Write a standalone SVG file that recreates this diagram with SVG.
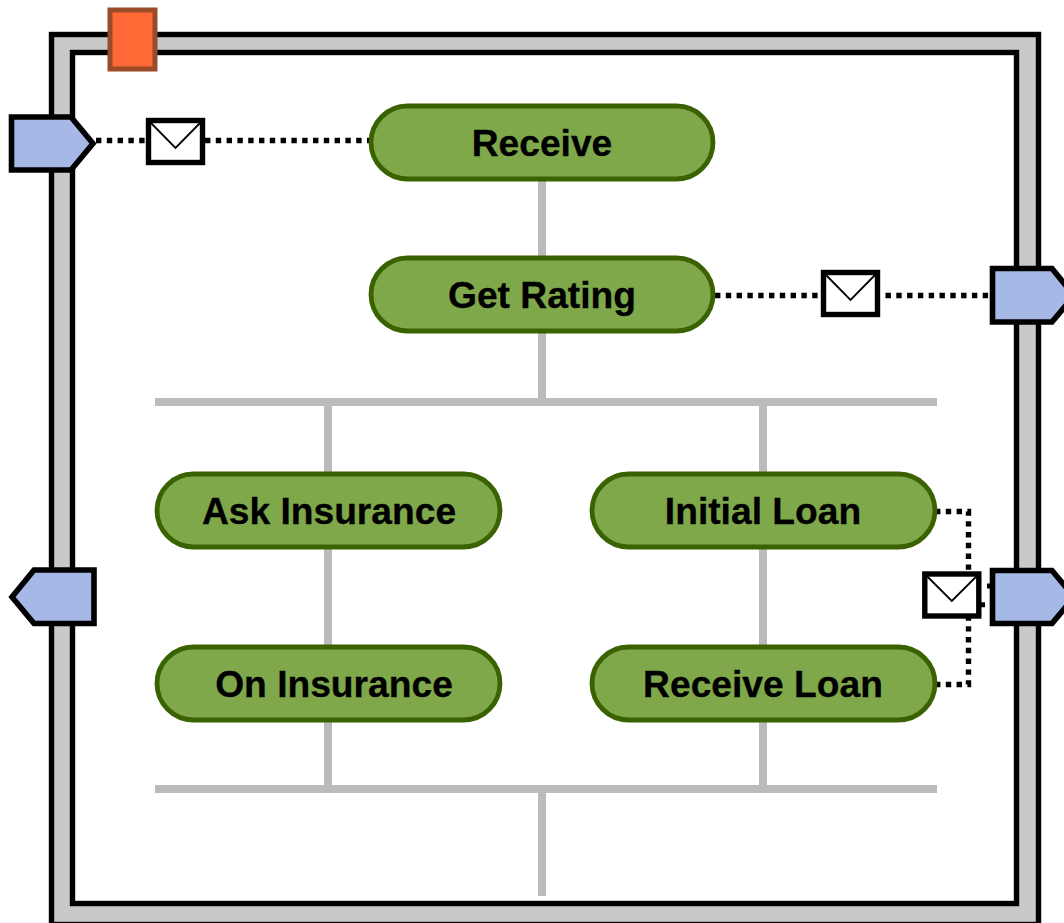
<svg xmlns="http://www.w3.org/2000/svg" width="1064" height="923" viewBox="0 0 1064 923">
<style>
.frame{stroke:#000;stroke-width:5.4}
.bar{fill:#bbb}
.dot{fill:none;stroke:#000;stroke-width:5.4;stroke-dasharray:5.400 5.400}
.port{fill:#a6b8e6;stroke:#000;stroke-width:5.6}
.env{fill:#fff;stroke:#000;stroke-width:5.4}
.flap{fill:none;stroke:#000;stroke-width:1.8}
.task{fill:#7fa84a;stroke:#3a6200;stroke-width:4.8}
text{font-family:"Liberation Sans",Arial,sans-serif;font-weight:700;font-size:37.2px;text-anchor:middle;fill:#000;stroke:#000;stroke-width:.3}
</style>
<rect width="1064" height="923" fill="#fff"/>
<g id="frame">
<rect class="frame" x="51.5" y="34.5" width="987" height="890" fill="#c9c9c9"/>
<rect class="frame" x="72.5" y="52.5" width="944" height="851" fill="#fff"/>
</g>
<g id="connectors">
<rect class="bar" x="538" y="181" width="8" height="75"/>
<rect class="bar" x="538" y="333" width="8" height="67"/>
<rect class="bar" x="155" y="398" width="782" height="8"/>
<rect class="bar" x="324" y="406" width="8" height="66"/>
<rect class="bar" x="759" y="406" width="8" height="66"/>
<rect class="bar" x="324" y="549" width="8" height="96"/>
<rect class="bar" x="759" y="549" width="8" height="96"/>
<rect class="bar" x="324" y="722" width="8" height="63"/>
<rect class="bar" x="759" y="722" width="8" height="63"/>
<rect class="bar" x="155" y="785" width="782" height="8"/>
<rect class="bar" x="538" y="793" width="8" height="103"/>
<path class="dot" d="M96 140.5H147"/>
<path class="dot" d="M205 140.5H369"/>
<path class="dot" d="M715 295.500H821"/>
<path class="dot" d="M885.500 295.500H990"/>
<path class="dot" d="M935 511.500H968.500V572"/>
<path class="dot" d="M935 684.500H968.500V618"/>
<path d="M987 586H992M980 604.700H985" fill="none" stroke="#000" stroke-width="5"/>
</g>
<g id="port-in"><path class="port" d="M11.500 117H71L93 143.500L71 170H11.500Z"/></g>
<g id="port-out-left"><path class="port" d="M94 570H34L12 597L34 623.500H94Z"/></g>
<g id="port-right-1"><path class="port" d="M992.500 268.500H1052L1074 295.500L1052 322H992.500Z"/></g>
<g id="port-right-2"><path class="port" d="M992.500 570.500H1052L1074 597L1052 623.500H992.500Z"/></g>
<g id="start"><rect x="110" y="10" width="45" height="59" fill="#ff6a36" stroke="#9a4b28" stroke-width="5"/></g>
<g id="msg-1"><rect class="env" x="148.500" y="120.500" width="54" height="42"/><path class="flap" d="M150 122L175.500 148L201 122"/></g>
<g id="msg-2"><rect class="env" x="823.500" y="272.500" width="54" height="42"/><path class="flap" d="M825 274L850.500 300L876 274"/></g>
<g id="msg-3"><rect class="env" x="924.800" y="574" width="54" height="42"/><path class="flap" d="M926.300 575.500L951.800 601L977.300 575.500"/></g>
<g id="receive"><rect class="task" x="371" y="106" width="342" height="73" rx="36.500"/><text x="542" y="156">Receive</text></g>
<g id="get-rating"><rect class="task" x="371" y="258" width="342" height="73" rx="36.500"/><text x="542" y="308">Get Rating</text></g>
<g id="ask-insurance"><rect class="task" x="157" y="474" width="343" height="73" rx="36.500"/><text x="329" y="524">Ask Insurance</text></g>
<g id="on-insurance"><rect class="task" x="157" y="647" width="343" height="73" rx="36.500"/><text x="334" y="697">On Insurance</text></g>
<g id="initial-loan"><rect class="task" x="592" y="474" width="343" height="73" rx="36.500"/><text x="763" y="524">Initial Loan</text></g>
<g id="receive-loan"><rect class="task" x="592" y="647" width="343" height="73" rx="36.500"/><text x="763" y="697">Receive Loan</text></g>
</svg>
